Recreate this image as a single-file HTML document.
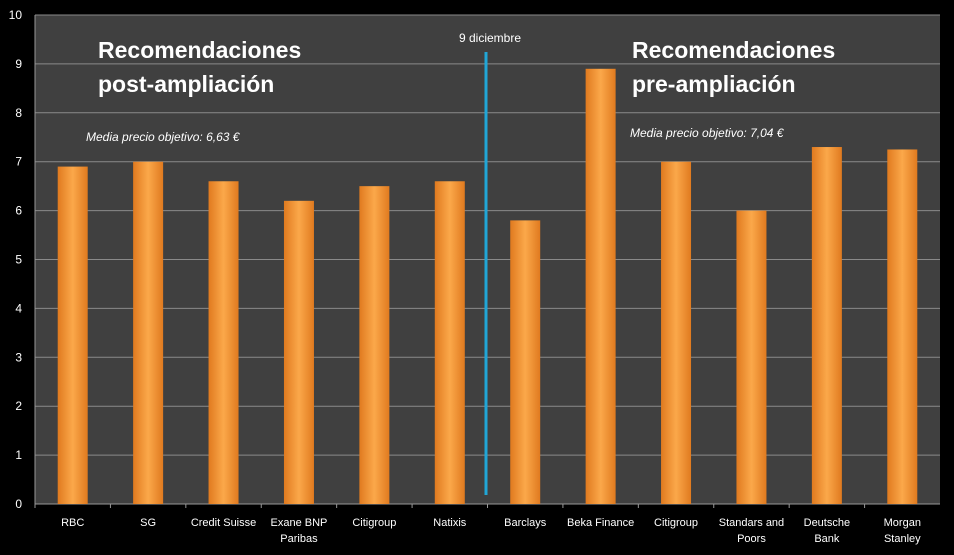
<!DOCTYPE html>
<html><head><meta charset="utf-8"><style>
html,body{margin:0;padding:0;background:#000;}
svg{display:block;font-family:"Liberation Sans",sans-serif;}
</style></head><body>
<svg id="chart" width="954" height="555">
<defs>
<linearGradient id="barg" x1="0" x2="1" y1="0" y2="0">
<stop offset="0" stop-color="#e07a1f"/><stop offset="0.5" stop-color="#fba84a"/><stop offset="1" stop-color="#e07a1f"/>
</linearGradient>
</defs>
<rect x="0" y="0" width="954" height="555" fill="#000"/>
<rect x="35" y="15" width="905" height="489" fill="#404040"/>
<g id="grid"></g><g id="bars"></g><g id="labels"></g>
<line x1="486" y1="52" x2="486" y2="495" stroke="#21a6d6" stroke-width="3"/>
<text x="490" y="42" fill="#fff" font-size="12" text-anchor="middle">9 diciembre</text>
<text x="98" y="58" fill="#fff" font-size="23" font-weight="bold">Recomendaciones</text>
<text x="98" y="92" fill="#fff" font-size="23" font-weight="bold">post-ampliación</text>
<text x="632" y="58" fill="#fff" font-size="23" font-weight="bold">Recomendaciones</text>
<text x="632" y="92" fill="#fff" font-size="23" font-weight="bold">pre-ampliación</text>
<text x="86" y="141" fill="#fff" font-size="12" font-style="italic">Media precio objetivo: 6,63 €</text>
<text x="630" y="137" fill="#fff" font-size="12" font-style="italic">Media precio objetivo: 7,04 €</text>
</svg>
<script>
const categories=[["RBC"],["SG"],["Credit Suisse"],["Exane BNP","Paribas"],["Citigroup"],["Natixis"],["Barclays"],["Beka Finance"],["Citigroup"],["Standars and","Poors"],["Deutsche","Bank"],["Morgan","Stanley"]];
const values=[6.9,7.0,6.6,6.2,6.5,6.6,5.8,8.9,7.0,6.0,7.3,7.25];
const yTicks=[0,1,2,3,4,5,6,7,8,9,10];
const NS="http://www.w3.org/2000/svg";
const X0=35,X1=940,Y0=504,Y1=15;
const bw=(X1-X0)/categories.length;
const y=v=>Y0-(v/10)*(Y0-Y1);
const xc=i=>X0+bw*(i+0.5);
function mk(t,a,p){const e=document.createElementNS(NS,t);for(const k in a)e.setAttribute(k,a[k]);p.appendChild(e);return e;}
const g=document.getElementById('grid'),b=document.getElementById('bars'),l=document.getElementById('labels');
yTicks.forEach(v=>{
 const ln=mk('line',{x1:X0,x2:X1,y1:y(v),y2:y(v),stroke:v===0?'#999':'#8a8a8a','stroke-width':1},g);
 
 
 const t=mk('text',{x:22,y:y(v)+4,fill:'#fff','font-size':12,'text-anchor':'end'},l);t.textContent=v;
 
 
});
mk('line',{x1:X0,x2:X0,y1:Y1,y2:Y0,stroke:'#999'},g);
categories.forEach((c,i)=>{
 const tk=mk('line',{x1:X0+bw*i,x2:X0+bw*i,y1:Y0,y2:Y0+4,stroke:'#999'},g);
 const r=mk('rect',{x:xc(i)-15,y:y(values[i]),width:30,height:Y0-y(values[i]),fill:'url(#barg)'},b);
 
 
 c.forEach((s,j)=>{const t=mk('text',{x:xc(i),y:526+j*16,fill:'#fff','font-size':11,'text-anchor':'middle'},l);t.textContent=s;
 
 });
});
</script>
</body></html>
